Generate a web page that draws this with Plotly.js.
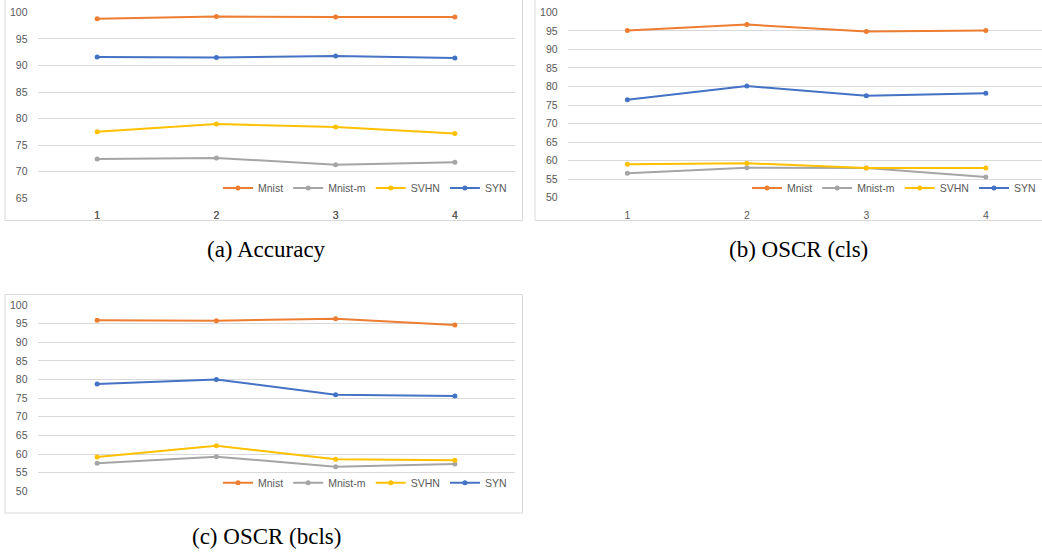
<!DOCTYPE html>
<html>
<head>
<meta charset="utf-8">
<script src="https://cdn.plot.ly/plotly-3.0.1.min.js"></script>
<style>
  html, body { margin: 0; padding: 0; background: #fff; overflow: hidden; }
  #chart { width: 1042px; height: 556px; }
</style>
</head>
<body>
<div id="chart"></div>
<script>
// ---- data ----
const xCats = ['1', '2', '3', '4'];
const seriesNames = ['Mnist', 'Mnist-m', 'SVHN', 'SYN'];

// (a) Accuracy
const accMnist  = [98.8, 99.2, 99.1, 99.1];
const accMnistM = [72.4, 72.6, 71.3, 71.8];
const accSVHN   = [77.5, 79.0, 78.4, 77.2];
const accSYN    = [91.6, 91.5, 91.8, 91.4];

// (b) OSCR (cls)
const clsMnist  = [95.1, 96.7, 94.8, 95.1];
const clsMnistM = [56.6, 58.1, 58.0, 55.6];
const clsSVHN   = [59.0, 59.3, 58.0, 58.0];
const clsSYN    = [76.4, 80.1, 77.5, 78.2];

// (c) OSCR (bcls)
const bclsMnist  = [95.9, 95.8, 96.3, 94.6];
const bclsMnistM = [57.5, 59.3, 56.6, 57.3];
const bclsSVHN   = [59.2, 62.2, 58.6, 58.3];
const bclsSYN    = [78.8, 80.0, 75.9, 75.6];

const captions = ['(a) Accuracy', '(b) OSCR (cls)', '(c) OSCR (bcls)'];

// ---- styles ----
const colors = ['#ED7D31', '#A5A5A5', '#FFC000', '#4472C4'];
const W = 1042, H = 556;
const px = v => v / W;
const py = v => 1 - v / H;
const tickFont = { family: 'Liberation Sans, Arial, sans-serif', size: 10.5, color: '#595959' };
const gridColor = '#D9D9D9';

const panels = [
  { data: [accMnist, accMnistM, accSVHN, accSYN], xa: 'x', ya: 'y', lg: 'legend' },
  { data: [clsMnist, clsMnistM, clsSVHN, clsSYN], xa: 'x2', ya: 'y2', lg: 'legend2' },
  { data: [bclsMnist, bclsMnistM, bclsSVHN, bclsSYN], xa: 'x3', ya: 'y3', lg: 'legend3' }
];

const traces = [];
panels.forEach(p => {
  p.data.forEach((vals, i) => {
    traces.push({
      type: 'scatter', mode: 'lines+markers',
      x: xCats, y: vals, name: seriesNames[i],
      xaxis: p.xa, yaxis: p.ya, legend: p.lg,
      line: { color: colors[i], width: 2 },
      marker: { color: colors[i], size: 5 },
      hoverinfo: 'x+y+name'
    });
  });
});

function xAxis(domain, range) {
  return {
    domain: domain, type: 'category', range: range,
    showgrid: false, zeroline: false, showline: false,
    ticks: '', ticklabelstandoff: 9, tickfont: tickFont, fixedrange: true
  };
}
function yAxis(domain, range, anchor) {
  return {
    domain: domain, range: range, dtick: 5, anchor: anchor,
    showgrid: true, gridcolor: gridColor, gridwidth: 1,
    zeroline: false, showline: false, ticks: '',
    ticklabelstandoff: 9, tickfont: tickFont, fixedrange: true
  };
}
function legendAt(x, y) {
  return {
    orientation: 'h', x: x, y: y, xanchor: 'right', yanchor: 'middle',
    xref: 'paper', yref: 'paper',
    bgcolor: 'rgba(0,0,0,0)', itemwidth: 30, traceorder: 'normal',
    font: { family: 'Liberation Sans, Arial, sans-serif', size: 10.5, color: '#595959' }
  };
}

const frameLine = { color: gridColor, width: 1 };
const layout = {
  width: W, height: H,
  margin: { l: 0, r: 0, t: 0, b: 0, pad: 0 },
  paper_bgcolor: '#fff', plot_bgcolor: 'rgba(0,0,0,0)',
  showlegend: true,
  xaxis:  xAxis([px(37.5), px(514.5)], [-0.5, 3.5]),
  yaxis:  yAxis([py(198.3), py(12.3)], [65, 100], 'x'),
  xaxis2: xAxis([px(567.6), 1], [-0.5, 3.47]),
  yaxis2: yAxis([py(197.7), py(12.3)], [50, 100], 'x2'),
  xaxis3: xAxis([px(37.5), px(514.5)], [-0.5, 3.5]),
  yaxis3: yAxis([py(491.3), py(305)], [50, 100], 'x3'),
  legend:  legendAt(px(512), py(188)),
  legend2: legendAt(px(1041), py(188)),
  legend3: legendAt(px(512), py(482.7)),
  shapes: [
    { type: 'rect', xref: 'paper', yref: 'paper', x0: px(5), x1: px(522.5), y0: py(220.5), y1: 1.02, line: frameLine, layer: 'below' },
    { type: 'rect', xref: 'paper', yref: 'paper', x0: px(535), x1: 1.02, y0: py(220.5), y1: 1.02, line: frameLine, layer: 'below' },
    { type: 'rect', xref: 'paper', yref: 'paper', x0: px(5), x1: px(522.5), y0: py(513), y1: py(294.5), line: frameLine, layer: 'below' }
  ],
  annotations: [
    { text: captions[0], xref: 'paper', yref: 'paper', x: px(266), y: py(249), xanchor: 'center', yanchor: 'middle', showarrow: false,
      font: { family: 'Liberation Serif, Times New Roman, serif', size: 23, color: '#000' } },
    { text: captions[1], xref: 'paper', yref: 'paper', x: px(798), y: py(249), xanchor: 'center', yanchor: 'middle', showarrow: false,
      font: { family: 'Liberation Serif, Times New Roman, serif', size: 23, color: '#000' } },
    { text: captions[2], xref: 'paper', yref: 'paper', x: px(266), y: py(536), xanchor: 'center', yanchor: 'middle', showarrow: false,
      font: { family: 'Liberation Serif, Times New Roman, serif', size: 23, color: '#000' } }
  ]
};

Plotly.newPlot('chart', traces, layout, { staticPlot: true, displayModeBar: false });
</script>
</body>
</html>
